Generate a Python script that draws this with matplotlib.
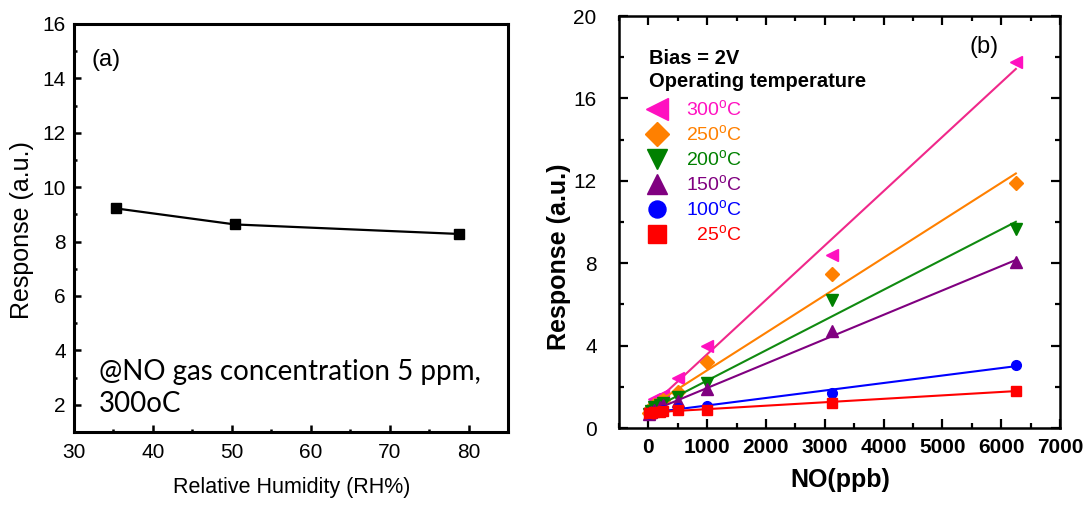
import matplotlib
matplotlib.use("Agg")
import matplotlib.pyplot as plt
import numpy as np
from matplotlib.ticker import MultipleLocator

plt.rcParams["font.family"] = ["Liberation Sans", "DejaVu Sans"]
plt.rcParams["mathtext.fontset"] = "custom"
plt.rcParams["mathtext.rm"] = "Liberation Sans"
plt.rcParams["mathtext.bf"] = "Liberation Sans:bold"

# ---- panel (a): response vs humidity ----
rh = [35.3, 50.4, 78.8]
rh_response = [9.22, 8.63, 8.28]

# ---- panel (b): response vs NO concentration ----
no_ppb = [10, 50, 100, 200, 250, 500, 1000, 3125, 6250]
temps = ["300", "250", "200", "150", "100", "25"]
resp_300 = [0.75, 1.0, 1.4, 1.5, 1.6, 2.45, 3.97, 8.4, 17.75]
resp_250 = [0.75, 0.95, 1.1, 1.25, 1.35, 1.75, 3.22, 7.5, 11.9]
resp_200 = [0.7, 0.85, 1.0, 1.1, 1.2, 1.5, 2.2, 6.2, 9.65]
resp_150 = [0.7, 0.8, 0.9, 1.0, 1.1, 1.3, 1.9, 4.7, 8.05]
resp_100 = [0.7, 0.75, 0.8, 0.85, 0.88, 0.95, 1.05, 1.72, 3.08]
resp_25 = [0.72, 0.75, 0.78, 0.8, 0.82, 0.88, 0.9, 1.22, 1.82]

series = [resp_300, resp_250, resp_200, resp_150, resp_100, resp_25]
markers = ["<", "D", "v", "^", "o", "s"]
colors = ["#FF10C0", "#FF8000", "#008000", "#800080", "#0000FF", "#FF0000"]
line_colors = ["#F0288A", "#FF8000", "#108A10", "#800080", "#0000FF", "#FF0000"]
msizes = [9, 7, 8, 8, 7, 7]

fig = plt.figure(figsize=(10.84, 5.09), dpi=100)

# ---------------- (a) ----------------
ax1 = fig.add_axes([0.0683, 0.1513, 0.4004, 0.8016])
ax1.plot(rh, rh_response, color="black", lw=1.6, marker="s", ms=6.5)
ax1.set_xlim(30, 85)
ax1.set_ylim(1, 16)
ax1.xaxis.set_minor_locator(MultipleLocator(5))
ax1.yaxis.set_major_locator(MultipleLocator(2))
ax1.yaxis.set_minor_locator(MultipleLocator(1))
ax1.set_xticks([30, 40, 50, 60, 70, 80])
ax1.tick_params(which="both", direction="in", width=1.8, top=False, right=False)
ax1.tick_params(which="major", length=5)
ax1.tick_params(which="minor", length=2.5)
ax1.tick_params(axis="x", pad=8, labelsize=15)
ax1.tick_params(axis="y", pad=6, labelsize=15)
for sp in ax1.spines.values():
    sp.set_linewidth(2.2)
ax1.set_xlabel("Relative Humidity (RH%)", fontsize=15.5, va="center")
ax1.xaxis.set_label_coords(0.502, -0.137)
ax1.set_ylabel("Response (a.u.)", fontsize=18, va="center")
ax1.yaxis.set_label_coords(-0.12, 0.495)
ax1.text(34.0, 14.68, "(a)", fontsize=17, ha="center", va="center")
ax1.text(33.2, 2.62, "@NO gas concentration 5 ppm,\n300oC", fontsize=20,
         ha="left", va="center", family=["Lato", "DejaVu Sans"], linespacing=1.3)

# ---------------- (b) ----------------
ax2 = fig.add_axes([0.571, 0.159, 0.4068, 0.8094])
handles = []
for resp, m, c, lc, ms in zip(series, markers, colors, line_colors, msizes):
    k, b = np.polyfit(no_ppb, resp, 1)
    xs = np.array([min(no_ppb), max(no_ppb)])
    ax2.plot(xs, k * xs + b, color=lc, lw=1.5)
    h, = ax2.plot(no_ppb, resp, ls="none", marker=m, color=c, ms=ms, mec=c)
    handles.append(h)

ax2.set_xlim(-500, 7000)
ax2.set_ylim(0, 20)
ax2.xaxis.set_major_locator(MultipleLocator(1000))
ax2.xaxis.set_minor_locator(MultipleLocator(500))
ax2.yaxis.set_major_locator(MultipleLocator(4))
ax2.yaxis.set_minor_locator(MultipleLocator(2))
ax2.tick_params(which="both", direction="in", width=1.6, top=True, right=True)
ax2.tick_params(which="major", length=6.5)
ax2.tick_params(which="minor", length=3.5)
ax2.tick_params(axis="x", pad=7, labelsize=15)
ax2.tick_params(axis="y", pad=16, labelsize=15)
for lab in ax2.get_xticklabels():
    lab.set_fontweight("bold")
for sp in ax2.spines.values():
    sp.set_linewidth(1.8)
ax2.set_xlabel("NO(ppb)", fontsize=18, fontweight="bold", va="center")
ax2.xaxis.set_label_coords(0.501, -0.126)
ax2.set_ylabel("Response (a.u.)", fontsize=18, fontweight="bold", va="center")
ax2.yaxis.set_label_coords(-0.136, 0.417)
ax2.text(0.828, 0.925, "(b)", transform=ax2.transAxes, fontsize=17,
         ha="center", va="center")
ax2.text(0.068, 0.897, "Bias = 2V", transform=ax2.transAxes, fontsize=14.5,
         fontweight="bold", ha="left", va="center")
ax2.text(0.068, 0.841, "Operating temperature", transform=ax2.transAxes,
         fontsize=14.5, fontweight="bold", ha="left", va="center")

labels = []
for t in temps:
    pad = "  " if len(t) == 2 else ""
    labels.append(pad + t + r"$^{\mathregular{o}}$C")
leg = ax2.legend(handles, labels, loc="upper left", bbox_to_anchor=(0.064, 0.798),
                 frameon=False, fontsize=14, markerscale=1.75, handlelength=1.0,
                 handletextpad=1.0, labelspacing=0.22, borderpad=0, borderaxespad=0)
for txt, c in zip(leg.get_texts(), colors):
    txt.set_color(c)

fig.savefig("out.png", dpi=100)
